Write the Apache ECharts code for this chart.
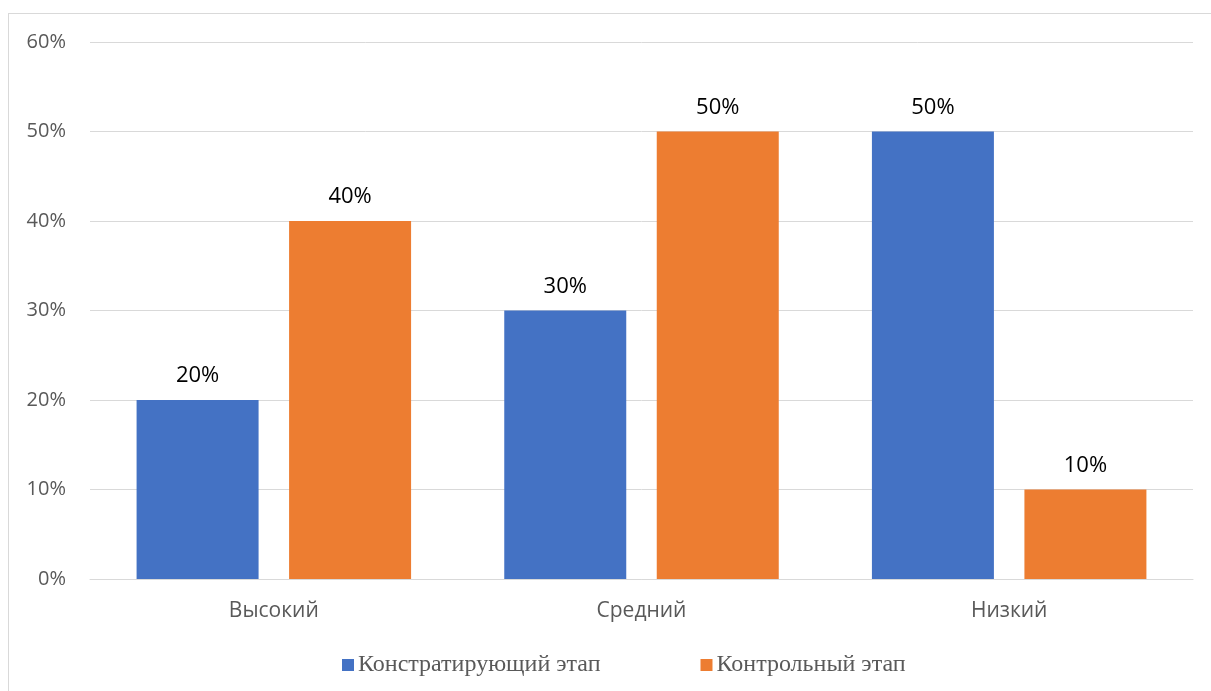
<!DOCTYPE html>
<html><head><meta charset="utf-8">
<script src="https://cdn.jsdelivr.net/npm/echarts@6/dist/echarts.min.js"></script>
<style>html,body{margin:0;padding:0;background:#fff;}#c{width:1211px;height:691px;}
#frame{position:absolute;left:8px;top:13px;width:1210px;height:700px;border:1px solid #d9d9d9;box-sizing:border-box;pointer-events:none;}</style>
</head><body><div id="c"></div><div id="frame"></div>
<script>
const categories = ['Высокий', 'Средний', 'Низкий'];
const seriesNames = ['Констратирующий этап', 'Контрольный этап'];
const constatingValues = [20, 30, 50];
const controlValues = [40, 50, 10];
const yTicks = [0, 10, 20, 30, 40, 50, 60];

const chart = echarts.init(document.getElementById('c'));
const sans = 'Open Sans';
chart.setOption({
  animation: false,
  grid: {left: 90, right: 18, top: 42, bottom: 112, containLabel: false},
  legend: {
    data: seriesNames, top: 648, left: 337, itemWidth: 12, itemHeight: 12, itemGap: 100,
    icon: 'rect',
    textStyle: {fontFamily: 'Liberation Serif', fontSize: 24, color: '#595959', padding: [0, 0, 0, -1]}
  },
  xAxis: {
    type: 'category', data: categories,
    axisLine: {lineStyle: {color: '#d9d9d9', width: 1}},
    axisTick: {show: false},
    axisLabel: {fontFamily: sans, fontSize: 21, color: '#595959', margin: 22}
  },
  yAxis: {
    type: 'value', min: yTicks[0], max: yTicks[yTicks.length - 1], interval: 10,
    axisLine: {show: false}, axisTick: {show: false},
    splitLine: {lineStyle: {color: '#d9d9d9', width: 1}},
    axisLabel: {fontFamily: sans, fontSize: 20, color: '#595959', margin: 24, formatter: v => v + '%'}
  },
  series: [
    {name: seriesNames[0], type: 'bar', data: constatingValues, barWidth: 122, barGap: '25%',
     itemStyle: {color: '#4472C4'},
     label: {show: true, position: 'top', distance: 13, fontFamily: sans, fontSize: 22, color: '#000', formatter: p => p.value + '%'}},
    {name: seriesNames[1], type: 'bar', data: controlValues, barWidth: 122, barGap: '25%',
     itemStyle: {color: '#ED7D31'},
     label: {show: true, position: 'top', distance: 13, fontFamily: sans, fontSize: 22, color: '#000', formatter: p => p.value + '%'}}
  ]
});
</script></body></html>
